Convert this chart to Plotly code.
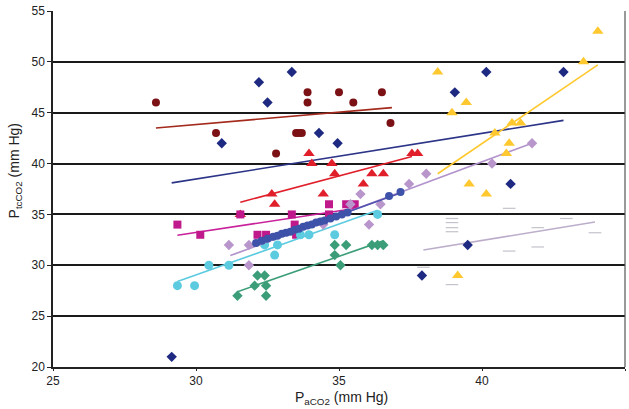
import plotly.graph_objects as go

# ---- data (PaCO2, PtcCO2) per subject series ----
darkred_x = [28.6, 30.7, 32.8, 33.5, 33.6, 33.7, 33.9, 33.9, 35.0, 35.5, 36.5, 36.8]
darkred_y = [46, 43, 41, 43, 43, 43, 47, 46, 47, 46, 47, 44]
darkred_line_x = [28.6, 36.85]
darkred_line_y = [43.5, 45.5]

navy_x = [30.9, 32.2, 32.5, 33.35, 34.3, 34.95, 39.05, 40.15, 42.85, 41.0, 39.5, 37.9, 29.15]
navy_y = [42, 48, 46, 49, 43, 42, 47, 49, 49, 38, 32, 29, 21]
navy_line_x = [29.15, 42.85]
navy_line_y = [38.1, 44.25]

red_x = [31.55, 32.65, 32.75, 33.95, 34.05, 34.75, 34.85, 34.45, 35.85, 36.15, 36.55, 37.55, 37.75]
red_y = [35, 37, 36, 41, 40, 40, 39, 37, 38, 39, 39, 41, 41]
red_line_x = [31.55, 37.55]
red_line_y = [36.2, 40.7]

mag_x = [29.35, 30.15, 31.55, 32.15, 32.45, 33.35, 33.45, 33.5, 34.65, 34.65, 35.25, 35.55]
mag_y = [34, 33, 35, 33, 33, 35, 34, 33, 36, 35, 36, 36]
mag_line_x = [29.35, 35.6]
mag_line_y = [32.95, 35.6]

cyan_x = [29.35, 29.95, 30.45, 31.15, 32.4, 32.85, 32.75, 33.65, 33.95, 34.85, 36.35]
cyan_y = [28, 28, 30, 30, 32, 32, 31, 33, 33, 33, 35]
cyan_line_x = [29.35, 36.35]
cyan_line_y = [28.4, 35.4]

green_x = [31.45, 32.05, 32.15, 32.4, 32.45, 32.45, 34.85, 35.25, 34.85, 35.05, 36.15, 36.35, 36.55]
green_y = [27, 28, 29, 29, 28, 27, 32, 32, 31, 30, 32, 32, 32]
green_line_x = [31.45, 36.55]
green_line_y = [27.4, 32.4]

blue_x = [32.1, 32.3, 32.5, 32.7, 32.85, 33.0, 33.15, 33.3, 33.45, 33.6, 33.75, 33.9,
          34.05, 34.2, 34.35, 34.5, 34.7, 34.9, 35.1, 35.3, 36.75, 37.15]
blue_y = [32.2, 32.4, 32.6, 32.8, 32.9, 33.1, 33.2, 33.3, 33.5, 33.6, 33.8, 33.9,
          34.0, 34.2, 34.3, 34.4, 34.6, 34.8, 35.0, 35.2, 36.8, 37.2]
blue_line_x = [32.0, 37.2]
blue_line_y = [31.9, 37.15]

lilac_x = [31.15, 31.85, 31.85, 34.45, 35.4, 35.75, 36.05, 36.45, 37.45, 38.05, 40.35, 41.75]
lilac_y = [32, 32, 30, 34, 36, 37, 34, 36, 38, 39, 40, 42]
lilac_line_x = [31.2, 41.75]
lilac_line_y = [30.95, 42.0]

yellow_x = [38.45, 39.45, 38.95, 41.05, 41.35, 40.45, 40.95, 40.85, 39.55, 40.15, 43.55, 44.05, 39.15]
yellow_y = [49, 46, 45, 44, 44, 43, 42, 41, 38, 37, 50, 53, 29]
yellow_line_x = [38.45, 44.05]
yellow_line_y = [39.0, 49.7]

grey_x = [38.95, 38.95, 38.95, 38.95, 40.95, 41.95, 42.95, 43.95, 40.95, 41.95, 37.95, 38.95]
grey_y = [34.6, 34.2, 33.7, 33.3, 35.6, 33.7, 34.6, 33.2, 31.4, 31.8, 29.8, 28.1]
grey_line_x = [37.95, 43.95]
grey_line_y = [31.5, 34.25]

x_ticks = [25, 30, 35, 40, 45]
y_ticks = [20, 25, 30, 35, 40, 45, 50, 55]

fig = go.Figure()

def add_series(xs, ys, lx, ly, color, symbol, size, lcolor, line_marker=False):
    fig.add_trace(go.Scatter(x=lx, y=ly, mode="lines",
                             line=dict(color=lcolor, width=1.6),
                             showlegend=False, hoverinfo="skip"))
    mk = dict(color=color, symbol=symbol, size=size)
    if line_marker:
        mk["line"] = dict(color=color, width=1.2)
    fig.add_trace(go.Scatter(x=xs, y=ys, mode="markers", marker=mk,
                             showlegend=False))

add_series(grey_x, grey_y, grey_line_x, grey_line_y, "#c4c2cc", "line-ew", 9, "#bcaecb", line_marker=True)
add_series(darkred_x, darkred_y, darkred_line_x, darkred_line_y, "#7b1114", "circle", 8, "#a32a1c")
add_series(navy_x, navy_y, navy_line_x, navy_line_y, "#1e2a82", "diamond", 8, "#2b3487")
add_series(red_x, red_y, red_line_x, red_line_y, "#e01f2b", "triangle-up", 10, "#e01f2b")
add_series(mag_x, mag_y, mag_line_x, mag_line_y, "#c0198b", "square", 8, "#c8219a")
add_series(cyan_x, cyan_y, cyan_line_x, cyan_line_y, "#5ccbe0", "circle", 9, "#5ccbe0")
add_series(green_x, green_y, green_line_x, green_line_y, "#3c9e78", "diamond", 8, "#3c9e78")
add_series(lilac_x, lilac_y, lilac_line_x, lilac_line_y, "#b896cc", "diamond", 8, "#b293cc")
add_series(blue_x, blue_y, blue_line_x, blue_line_y, "#3d52a8", "circle", 8, "#5152b0")
add_series(yellow_x, yellow_y, yellow_line_x, yellow_line_y, "#ffc82e", "triangle-up", 10, "#ffc82e")

font = "Liberation Sans, Arial, sans-serif"

fig.update_layout(
    width=629, height=409,
    margin=dict(l=53, r=4, t=9, b=42),
    paper_bgcolor="white", plot_bgcolor="white",
    font=dict(family=font, color="#222", size=12),
    xaxis=dict(range=[25, 45], tickvals=x_ticks, showgrid=False, zeroline=False,
               showline=True, linecolor="#222", linewidth=1.5, mirror=False,
               ticks="outside", ticklen=2, tickcolor="#222",
               tickfont=dict(size=12, family=font)),
    yaxis=dict(range=[20, 55], tickvals=y_ticks, showgrid=True, gridcolor="#1a1a1a",
               gridwidth=1.6, zeroline=False,
               showline=True, linecolor="#222", linewidth=1.5, mirror=False,
               ticks="outside", ticklen=4, tickcolor="#222",
               tickfont=dict(size=12, family=font)),
    shapes=[dict(type="line", xref="paper", yref="paper", x0=1, x1=1, y0=0, y1=1,
                 line=dict(color="#555", width=1.2))],
    annotations=[
        dict(text="P<sub>aCO</sub><sub>2</sub> (mm Hg)", xref="paper", yref="paper",
             x=0.505, y=-0.056, xanchor="center", yanchor="top", showarrow=False,
             font=dict(size=14, family=font, color="#222")),
        dict(text="P<sub>tcCO</sub><sub>2</sub> (mm Hg)", xref="paper", yref="paper",
             x=-0.066, y=0.55, xanchor="center", yanchor="middle", textangle=-90,
             showarrow=False, font=dict(size=14, family=font, color="#222")),
    ],
)

fig.write_html("out.html")
